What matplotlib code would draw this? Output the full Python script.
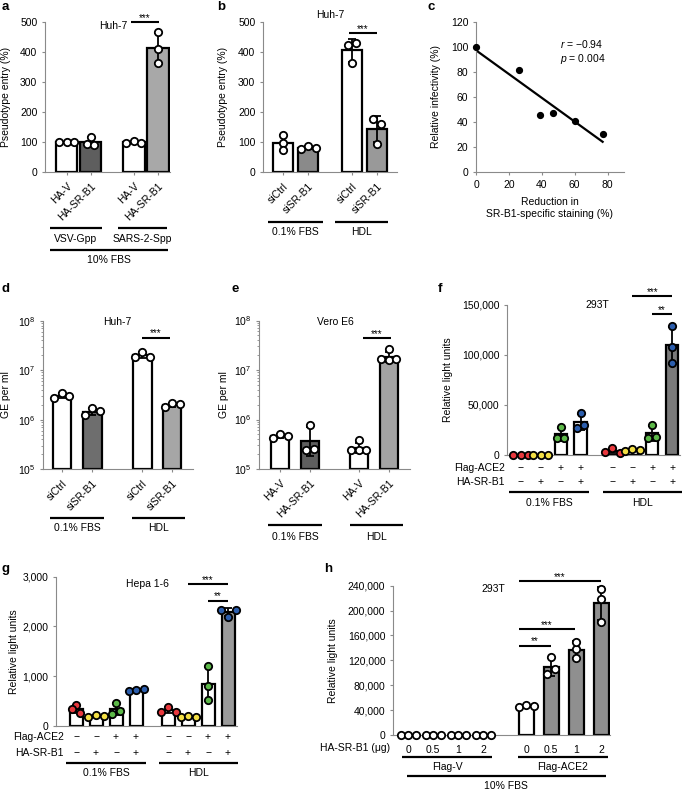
import numpy as np
import matplotlib
matplotlib.use('Agg')
import matplotlib.pyplot as plt
from matplotlib.ticker import FuncFormatter, LogLocator, NullFormatter

plt.rcParams['font.family'] = ['Liberation Sans', 'DejaVu Sans']
plt.rcParams['font.size'] = 7.5
plt.rcParams['mathtext.fontset'] = 'custom'
plt.rcParams['mathtext.rm'] = 'Liberation Sans'
plt.rcParams['mathtext.it'] = 'Liberation Sans:italic'
plt.rcParams['axes.linewidth'] = 0.8
plt.rcParams['axes.edgecolor'] = '#8a8a8a'
plt.rcParams['xtick.color'] = '#8a8a8a'
plt.rcParams['ytick.color'] = '#8a8a8a'
plt.rcParams['xtick.labelcolor'] = 'black'
plt.rcParams['ytick.labelcolor'] = 'black'
plt.rcParams['xtick.major.size'] = 2.5
plt.rcParams['ytick.major.size'] = 2.5
plt.rcParams['ytick.minor.size'] = 1.3
plt.rcParams['xtick.major.pad'] = 3
plt.rcParams['ytick.major.pad'] = 3

# ---------------- data ----------------
# a  pseudotype entry, Huh-7
a_names = ['HA-V', 'HA-SR-B1', 'HA-V', 'HA-SR-B1']
a_pts = [[99, 100, 100], [92, 118, 90], [98, 102, 98], [466, 411, 364]]
a_groups = ['VSV-Gpp', 'SARS-2-Spp', '10% FBS']
a_sig = [(2.67, 3.83, 500, '***')]

# b  pseudotype entry, siRNA
b_names = ['siCtrl', 'siSR-B1', 'siCtrl', 'siSR-B1']
b_pts = [[125, 97, 72], [76, 86, 79], [425, 430, 362], [178, 160, 94]]
b_groups = ['0.1% FBS', 'HDL']
b_sig = [(2.64, 3.76, 463, '***')]

# c  correlation
c_reduction = [0, 26, 39, 47, 60.5, 77]
c_infectivity = [100, 82, 46, 47.5, 41, 30.5]
c_r, c_p = -0.94, 0.004

# d  GE per ml, Huh-7
d_names = ['siCtrl', 'siSR-B1', 'siCtrl', 'siSR-B1']
d_pts = [[2.8e6, 3.5e6, 2.95e6], [1.24e6, 1.7e6, 1.5e6],
         [1.86e7, 2.34e7, 1.86e7], [1.8e6, 2.15e6, 2.05e6]]
d_groups = ['0.1% FBS', 'HDL']
d_sig = [(2.62, 3.54, 10 ** 7.66, '***')]

# e  GE per ml, Vero E6
e_names = ['HA-V', 'HA-SR-B1', 'HA-V', 'HA-SR-B1']
e_pts = [[4.3e5, 5.2e5, 4.6e5], [2.45e5, 7.8e5, 2.5e5],
         [2.4e5, 3.85e5, 2.4e5, 2.4e5], [1.65e7, 2.6e7, 1.6e7, 1.65e7]]
e_groups = ['0.1% FBS', 'HDL']
e_sig = [(2.77, 3.7, 10 ** 7.65, '***')]

# f / g  relative light units
flag_ace2 = ['\u2212', '\u2212', '+', '+', '\u2212', '\u2212', '+', '+']
ha_srb1 = ['\u2212', '+', '\u2212', '+', '\u2212', '+', '\u2212', '+']
fg_groups = ['0.1% FBS', 'HDL']
f_pts = [[400, 500, 300], [250, 200, 300], [16700, 28300, 17300], [26700, 42300, 30000],
         [3300, 6700, 2300], [4000, 6000, 5000], [16700, 30000, 18300], [107700, 129300, 91700]]
f_sig = [(5.6, 7.6, 159300, '***'), (6.6, 7.6, 141000, '**')]
g_pts = [[420, 335, 255], [190, 220, 200], [241, 469, 308], [700, 725, 740],
         [290, 390, 290], [190, 200, 175], [520, 1210, 800], [2330, 2200, 2330]]
g_sig = [(5.6, 7.6, 2846, '***'), (6.6, 7.6, 2518, '**')]

# h  dose series
h_dose = ['0', '0.5', '1', '2', '0', '0.5', '1', '2']
h_pts = [[250, 400, 300], [300, 200, 350], [400, 250, 300], [300, 350, 200],
         [45000, 48500, 46000], [97500, 125900, 105500], [138000, 150000, 124000],
         [234600, 218600, 182100]]
h_groups = ['Flag-V', 'Flag-ACE2', '10% FBS']
h_sig = [(4.44, 7.72, 248000, '***'), (4.44, 6.68, 169800, '***'), (4.44, 5.72, 143600, '**')]

dot_cols = ['#e8383d', '#f3df45', '#5cb848', '#2c5ead'] * 2

# ---------------- layout (pixels) ----------------
W, H = 685, 791
fig = plt.figure(figsize=(W / 100, H / 100), dpi=100)

boxes = {'a': (45, 22, 170, 172), 'b': (263, 22, 397, 172), 'c': (476, 22, 624, 172),
         'd': (43, 320.7, 193, 469.3), 'e': (259, 320.5, 410, 469),
         'f': (507, 305, 680, 455), 'g': (56, 576.7, 237, 726), 'h': (393, 585.7, 610, 735)}


def make_ax(key):
    l, t, r, b = boxes[key]
    ax = fig.add_axes([l / W, 1 - b / H, (r - l) / W, (b - t) / H])
    ax.spines[['top', 'right']].set_visible(False)
    return ax


def fy(key, ypx):
    l, t, r, b = boxes[key]
    return (b - ypx) / (b - t)


def fx(key, xpx):
    l, t, r, b = boxes[key]
    return (xpx - l) / (r - l)


def ylab(ax, key, text, right_px):
    ax.set_ylabel(text)
    ax.yaxis.set_label_coords(fx(key, right_px), 0.5)


def swarm(ax, x, vals, step=7.5, gap=7.0):
    disp = ax.transData.transform(np.column_stack([np.full(len(vals), x), vals]))
    order = np.argsort(disp[:, 1], kind='stable')
    rows, cur, start = [], [], None
    for i in order:
        if cur and disp[i, 1] - start > gap:
            rows.append(cur)
            cur = []
        if not cur:
            start = disp[i, 1]
        cur.append(i)
    rows.append(cur)
    offs = np.zeros(len(vals))
    for row in rows:
        row = sorted(row)
        offs[row] = (np.arange(len(row)) - (len(row) - 1) / 2) * step
    back = ax.transData.inverted().transform(np.column_stack([disp[:, 0] + offs, disp[:, 1]]))
    return back[:, 0]


def draw_bars(ax, pos, pts, colors, width, log=False, dots=None):
    for i, (x, vals) in enumerate(zip(pos, pts)):
        v = np.array(vals, float)
        if log:
            lv = np.log10(v)
            m = 10 ** lv.mean()
            f = 10 ** lv.std(ddof=1)
            err = [[m - m / f], [m * f - m]]
            base = ax.get_ylim()[0]
            ax.bar(x, m - base, width, bottom=base, color=colors[i], edgecolor='k',
                   linewidth=1.6, zorder=2)
        else:
            m = v.mean()
            err = v.std(ddof=1)
            ax.bar(x, m, width, color=colors[i], edgecolor='k', linewidth=1.6, zorder=2)
        ax.errorbar(x, m, yerr=err, fmt='none', ecolor='k', elinewidth=1.3,
                    capsize=3, capthick=1.3, zorder=3)
        xs = swarm(ax, x, v)
        fc = 'white' if dots is None else dots[i]
        ax.plot(xs, v, 'o', ms=5.3, mfc=fc, mec='k', mew=1.3, zorder=4, clip_on=False)


def sig(ax, items):
    for x0, x1, y, s in items:
        ax.plot([x0, x1], [y, y], color='k', lw=1.5, clip_on=False, solid_capstyle='butt')
        ax.annotate(s, xy=((x0 + x1) / 2, y), xytext=(0, 0.8), textcoords='offset points',
                    ha='center', va='baseline', fontsize=7, annotation_clip=False)


def brackets(ax, key, items):
    tr = ax.get_xaxis_transform()
    for x0, x1, yl, yt, s in items:
        ax.plot([x0, x1], [fy(key, yl)] * 2, color='k', lw=1.6, transform=tr,
                clip_on=False, solid_capstyle='butt')
        ax.text((x0 + x1) / 2, fy(key, yt), s, transform=tr, ha='center', va='center')


def rot_names(ax, pos, names):
    ax.set_xticks(pos)
    ax.set_xticklabels(names, rotation=45, ha='right', rotation_mode='anchor')
    ax.tick_params(axis='x', pad=4)


def panel_letter(x, y, s):
    fig.text(x / W, 1 - y / H, s, fontsize=9.5, fontweight='bold', va='top')


# ---------------- a ----------------
ax = make_ax('a')
pos = [0, 1, 2.8, 3.8]
ax.set_xlim(-0.9, 4.3)
ax.set_ylim(0, 500)
ax.set_yticks(range(0, 501, 100))
draw_bars(ax, pos, a_pts, ['white', '#5e5e5e', 'white', '#a8a8a8'], 0.88)
rot_names(ax, pos, a_names)
sig(ax, a_sig)
ax.text(2.54, 487, 'Huh-7', ha='right', va='center')
ylab(ax, 'a', 'Pseudotype entry (%)', 11)
brackets(ax, 'a', [(-0.71, 1.46, 228, 239, a_groups[0]), (2.12, 4.17, 228, 239, a_groups[1]),
                   (-0.71, 4.2, 250, 260, a_groups[2])])

# ---------------- b ----------------
ax = make_ax('b')
pos = [0, 1, 2.76, 3.76]
ax.set_xlim(-0.8, 4.56)
ax.set_ylim(0, 500)
ax.set_yticks(range(0, 501, 100))
draw_bars(ax, pos, b_pts, ['white', '#8a8a8a', 'white', '#999999'], 0.8)
rot_names(ax, pos, b_names)
sig(ax, b_sig)
ax.text(1.88, 523, 'Huh-7', ha='center', va='center')
ylab(ax, 'b', 'Pseudotype entry (%)', 228)
brackets(ax, 'b', [(-0.6, 1.6, 222, 232, b_groups[0]), (2.08, 4.2, 222, 232, b_groups[1])])

# ---------------- c ----------------
ax = make_ax('c')
ax.set_xlim(0, 90)
ax.set_ylim(0, 120)
ax.set_xticks(range(0, 81, 20))
ax.set_yticks(range(0, 121, 20))
slope, icpt = np.polyfit(c_reduction, c_infectivity, 1)
xx = np.array([min(c_reduction), max(c_reduction)])
ax.plot(xx, slope * xx + icpt, color='k', lw=1.6, zorder=2)
ax.plot(c_reduction, c_infectivity, 'o', color='k', ms=4.2, zorder=3, clip_on=False)
ax.text(51, 102.5, '$r$ = \u2212%.2f' % abs(c_r), ha='left', va='center')
ax.text(51, 90.5, '$p$ = %.3f' % c_p, ha='left', va='center')
ylab(ax, 'c', 'Relative infectivity (%)', 441)
ax.set_xlabel('Reduction in\nSR-B1-specific staining (%)', linespacing=1.25)
ax.xaxis.set_label_coords(0.5, fy('c', 197))

# ---------------- d ----------------
ax = make_ax('d')
pos = [0, 1, 2.64, 3.62]
ax.set_yscale('log')
ax.set_xlim(-0.62, 4.3)
ax.set_ylim(1e5, 1e8)
ax.yaxis.set_minor_locator(LogLocator(subs=np.arange(2, 10)))
ax.yaxis.set_minor_formatter(NullFormatter())
draw_bars(ax, pos, d_pts, ['white', '#6e6e6e', 'white', '#a6a6a6'], 0.6, log=True)
rot_names(ax, pos, d_names)
sig(ax, d_sig)
ax.text(1.8, 10 ** 7.97, 'Huh-7', ha='center', va='center')
ylab(ax, 'd', 'GE per ml', 11)
brackets(ax, 'd', [(-0.39, 1.38, 518, 528, d_groups[0]), (2.3, 4.03, 518, 528, d_groups[1])])

# ---------------- e ----------------
ax = make_ax('e')
pos = [0, 1, 2.63, 3.63]
ax.set_yscale('log')
ax.set_xlim(-0.7, 4.33)
ax.set_ylim(1e5, 1e8)
ax.yaxis.set_minor_locator(LogLocator(subs=np.arange(2, 10)))
ax.yaxis.set_minor_formatter(NullFormatter())
draw_bars(ax, pos, e_pts, ['white', '#5e5e5e', 'white', '#a3a3a3'], 0.6, log=True)
rot_names(ax, pos, e_names)
sig(ax, e_sig)
ax.text(1.83, 10 ** 7.96, 'Vero E6', ha='center', va='center')
ylab(ax, 'e', 'GE per ml', 229)
brackets(ax, 'e', [(-0.4, 1.4, 525, 537, e_groups[0]), (2.33, 4.1, 525, 537, e_groups[1])])

comma = FuncFormatter(lambda v, p: f'{v:,.0f}')


def pm_rows(ax, key, pos, y1, y2, right_px):
    tr = ax.get_xaxis_transform()
    for x, s1, s2 in zip(pos, flag_ace2, ha_srb1):
        ax.text(x, fy(key, y1), s1, transform=tr, ha='center', va='center')
        ax.text(x, fy(key, y2), s2, transform=tr, ha='center', va='center')
    ax.text(fx(key, right_px), fy(key, y1), 'Flag-ACE2', transform=ax.transAxes,
            ha='right', va='center')
    ax.text(fx(key, right_px), fy(key, y2), 'HA-SR-B1', transform=ax.transAxes,
            ha='right', va='center')


# ---------------- f ----------------
ax = make_ax('f')
pos = [0, 1, 2, 3, 4.6, 5.6, 6.6, 7.6]
ax.set_xlim(-0.7, 8.0)
ax.set_ylim(0, 150000)
ax.set_yticks(range(0, 150001, 50000))
ax.yaxis.set_major_formatter(comma)
draw_bars(ax, pos, f_pts, ['white'] * 7 + ['#7a7a7a'], 0.62, dots=dot_cols)
ax.set_xticks(pos)
ax.set_xticklabels([])
ax.tick_params(axis='x', length=0)
sig(ax, f_sig)
ax.text(3.82, 150000, '293T', ha='center', va='center')
ylab(ax, 'f', 'Relative light units', 453)
pm_rows(ax, 'f', pos, 468, 482, 505)
brackets(ax, 'f', [(-0.6, 3.42, 492, 503, fg_groups[0]), (4.12, 8.09, 492, 503, fg_groups[1])])

# ---------------- g ----------------
ax = make_ax('g')
ax.set_xlim(-1.0, 8.05)
ax.set_ylim(0, 3000)
ax.set_yticks(range(0, 3001, 1000))
ax.yaxis.set_major_formatter(comma)
draw_bars(ax, pos, g_pts, ['white'] * 7 + ['#9a9a9a'], 0.65, dots=dot_cols)
ax.set_xticks(pos)
ax.set_xticklabels([])
ax.tick_params(axis='x', length=0)
sig(ax, g_sig)
ax.text(3.55, 2853, 'Hepa 1-6', ha='center', va='center')
ylab(ax, 'g', 'Relative light units', 19)
pm_rows(ax, 'g', pos, 737, 753, 64)
brackets(ax, 'g', [(-0.5, 3.5, 763, 773, fg_groups[0]), (4.15, 8.1, 763, 773, fg_groups[1])])

# ---------------- h ----------------
ax = make_ax('h')
pos = [0, 1, 2, 3, 4.72, 5.72, 6.72, 7.72]
ax.set_xlim(-0.6, 8.08)
ax.set_ylim(0, 240000)
ax.set_yticks(range(0, 240001, 40000))
ax.yaxis.set_major_formatter(comma)
draw_bars(ax, pos, h_pts, ['white'] * 5 + ['#8f8f8f'] * 3, 0.6)
ax.set_xticks(pos)
ax.set_xticklabels(h_dose)
ax.tick_params(axis='x', length=0, pad=7)
sig(ax, h_sig)
ax.text(3.4, 235000, '293T', ha='center', va='center')
ylab(ax, 'h', 'Relative light units', 338)
ax.text(fx('h', 390), fy('h', 748), 'HA-SR-B1 (\u03bcg)', transform=ax.transAxes,
        ha='right', va='center')
brackets(ax, 'h', [(-0.24, 3.36, 757, 767, h_groups[0]), (4.4, 8.0, 757, 767, h_groups[1]),
                   (-0.05, 7.92, 776, 786, h_groups[2])])

# panel letters
for x, y, s in [(2, 1, 'a'), (217, 1, 'b'), (427, 1, 'c'), (2, 283, 'd'), (231, 283, 'e'),
                (438, 283, 'f'), (2, 563, 'g'), (324, 563, 'h')]:
    panel_letter(x, y, s)

fig.savefig('out.png', dpi=100)
